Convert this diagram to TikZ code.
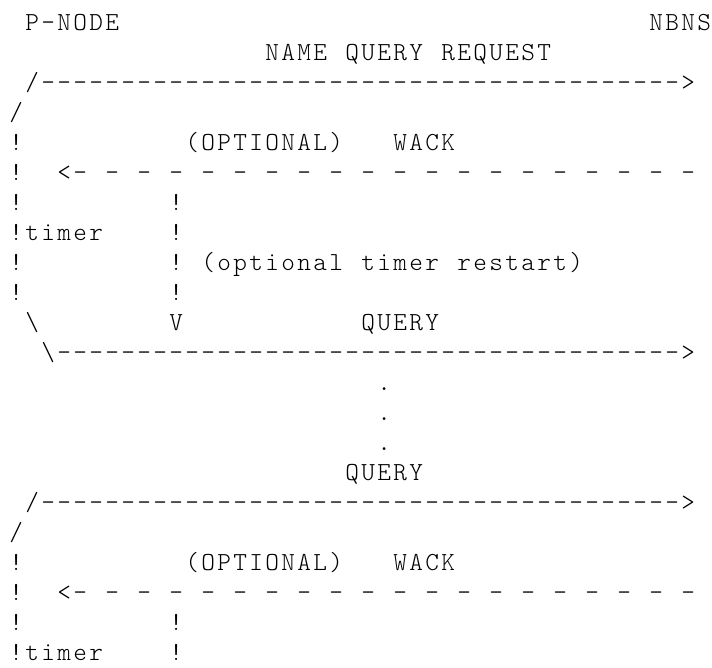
\documentclass[tikz,border=0pt]{standalone}
\usepackage{fontspec}
\newfontfamily\asciifont{lmmonolt10-regular.otf}[LetterSpace=9.04]
\begin{document}
\begin{tikzpicture}[x=16pt, y=-30pt]
\tikzstyle{glyph}=[anchor=base west, inner sep=0pt, xshift=1.2pt, font=\asciifont\fontsize{26pt}{30pt}\selectfont]
\useasboundingbox (-0.5, 0) rectangle (44, 22.2333);

% Header
\node at (1, 1) [glyph] (pnode) {P-NODE};
\node at (40, 1) [glyph] (nbns) {NBNS};
\node at (16, 2) [glyph] (name) {NAME};
\node at (21, 2) [glyph] (query) {QUERY};
\node at (27, 2) [glyph] (request) {REQUEST};

% Request and WACK (twice)
\foreach \b in {0,14} {
\node at (1, 3+\b) [glyph] (up_\b) {/};
\foreach \c in {2,...,41}
\node at (\c, 3+\b) [glyph] (req_\b_\c) {-};
\node at (42, 3+\b) [glyph] (reqhead_\b) {>};
\node at (0, 4+\b) [glyph] (slash_\b) {/};
\node at (0, 5+\b) [glyph] (bar_\b_5) {!};
\node at (11, 5+\b) [glyph] (optional_\b) {(OPTIONAL)};
\node at (24, 5+\b) [glyph] (wack_\b) {WACK};
\node at (0, 6+\b) [glyph] (bar_\b_6) {!};
\node at (3, 6+\b) [glyph] (wackhead_\b) {<};
\foreach \c in {4,6,...,42}
\node at (\c, 6+\b) [glyph] (wackdash_\b_\c) {-};
\node at (0, 7+\b) [glyph] (bar_\b_7) {!};
\node at (10, 7+\b) [glyph] (restart_\b_7) {!};
\node at (0, 8+\b) [glyph] (timer_\b) {!timer};
\node at (10, 8+\b) [glyph] (restart_\b_8) {!};
}

% Timer restart
\node at (0, 9) [glyph] (bar_9) {!};
\node at (10, 9) [glyph] (restart_9) {!};
\node at (12, 9) [glyph] (opt) {(optional};
\node at (22, 9) [glyph] (tim) {timer};
\node at (28, 9) [glyph] (rst) {restart)};
\node at (0, 10) [glyph] (bar_10) {!};
\node at (10, 10) [glyph] (restart_10) {!};
\node at (1, 11) [glyph] (down_11) {\textbackslash};
\node at (10, 11) [glyph] (restarthead) {V};
\node at (22, 11) [glyph] (query_1) {QUERY};

% Query
\node at (2, 12) [glyph] (down_12) {\textbackslash};
\foreach \c in {3,...,41}
\node at (\c, 12) [glyph] (qry_\c) {-};
\node at (42, 12) [glyph] (qryhead) {>};

% Dots
\foreach \r in {13,14,15}
\node at (23, \r) [glyph] (dot_\r) {.};
\node at (21, 16) [glyph] (query_2) {QUERY};
\end{tikzpicture}
\end{document}
